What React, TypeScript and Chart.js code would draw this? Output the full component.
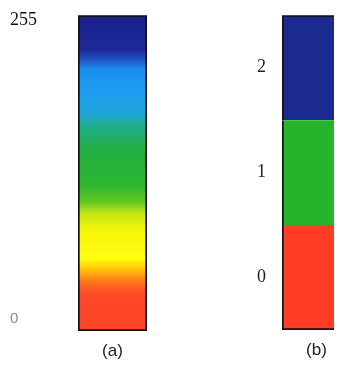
import React, { useEffect, useRef } from "react";
import { Chart, registerables } from "chart.js";

Chart.register(...registerables);

// ---- data ----
const A_LABEL = ["(a)"];
const A_TICKS = [0, 255];
const A_RANGE = [-10, 259]; // extent of the colour bar in intensity units
const GRAD_POS = [0, 0.12, 0.16, 0.2, 0.23, 0.32, 0.37, 0.41, 0.46, 0.57, 0.65, 0.69, 0.75, 0.83, 0.86, 0.89, 1];
const GRAD_COLORS = [
  "#ff4428", "#ff4a28", "#ff7a1a", "#ffcc08", "#ffff10", "#f6f40a", "#c8e614", "#62c822",
  "#2cb630", "#22b040", "#20ae8c", "#20a6dc", "#1e9ef0", "#1a8eee", "#2050c4", "#1c2a98", "#1a2086",
];

const B_LABEL = ["(b)"];
const B_CLASSES = [0, 1, 2];
const B_COLORS = ["#ff3c24", "#26b42a", "#1b2a8e"];

const SERIF = "'Liberation Serif', 'Times New Roman', serif";
const SANS = "'Liberation Sans', Arial, sans-serif";

function useChart(ref: React.RefObject<HTMLCanvasElement>, make: (c: HTMLCanvasElement) => Chart) {
  useEffect(() => {
    if (!ref.current) return;
    const ch = make(ref.current);
    return () => ch.destroy();
  }, []);
}

export default function App() {
  const refA = useRef<HTMLCanvasElement>(null);
  const refB = useRef<HTMLCanvasElement>(null);

  useChart(refA, (canvas) =>
    new Chart(canvas, {
      type: "bar",
      data: {
        labels: A_LABEL,
        datasets: [
          {
            data: [A_RANGE as any],
            backgroundColor: (ctx: any) => {
              const chart = ctx.chart;
              const ys = chart.scales && chart.scales.y;
              if (!chart.chartArea || !ys) return GRAD_COLORS[0];
              const y0 = ys.getPixelForValue(A_RANGE[0]);
              const y1 = ys.getPixelForValue(A_RANGE[1]);
              const g = chart.ctx.createLinearGradient(0, y0, 0, y1);
              GRAD_POS.forEach((p, i) => g.addColorStop(p, GRAD_COLORS[i]));
              return g;
            },
            borderColor: "#111",
            borderWidth: 2,
            borderSkipped: false,
            categoryPercentage: 1,
            barPercentage: 1,
          },
        ],
      },
      options: {
        responsive: false,
        animation: false,
        layout: { padding: { top: 7, right: 24, left: 2, bottom: 0 } },
        plugins: { legend: { display: false }, tooltip: { enabled: false } },
        scales: {
          x: {
            grid: { display: false, drawTicks: false },
            border: { display: false },
            ticks: { padding: 10, color: "#222", font: { family: SANS, size: 17 } },
            afterFit: (s: any) => { s.height = 39; },
          },
          y: {
            min: A_RANGE[0],
            max: A_RANGE[1],
            grid: { display: false, drawTicks: false },
            border: { display: false },
            afterBuildTicks: (s: any) => { s.ticks = A_TICKS.map((v) => ({ value: v })); },
            afterFit: (s: any) => { s.width = 68; },
            ticks: {
              crossAlign: "far",
              padding: 0,
              callback: (v: any) => String(v),
              color: (c: any) => (c.tick && c.tick.value === 0 ? "#8a8a8a" : "#111"),
              font: (c: any) =>
                c.tick && c.tick.value === 0
                  ? { family: SANS, size: 15, lineHeight: 0.8 }
                  : { family: SERIF, size: 18, lineHeight: 0.8 },
            },
          },
        },
      },
    } as any)
  );

  useChart(refB, (canvas) =>
    new Chart(canvas, {
      type: "bar",
      data: {
        labels: B_LABEL,
        datasets: B_CLASSES.map((v, i) => ({
          data: [[v - 0.5, v + 0.5] as any],
          backgroundColor: B_COLORS[i],
          borderColor: "#111",
          borderWidth: {
            left: 2,
            right: 2,
            top: i === B_CLASSES.length - 1 ? 2 : 0,
            bottom: i === 0 ? 2 : 0,
          },
          borderSkipped: false,
          grouped: false,
          categoryPercentage: 1,
          barPercentage: 1,
        })),
      },
      options: {
        responsive: false,
        animation: false,
        layout: { padding: { top: 7, right: 20, left: 86, bottom: 0 } },
        plugins: { legend: { display: false }, tooltip: { enabled: false } },
        scales: {
          x: {
            grid: { display: false, drawTicks: false },
            border: { display: false },
            ticks: { padding: 10, color: "#222", font: { family: SANS, size: 17 } },
            afterFit: (s: any) => { s.height = 40; },
          },
          y: {
            min: B_CLASSES[0] - 0.5,
            max: B_CLASSES[B_CLASSES.length - 1] + 0.5,
            grid: { display: false, drawTicks: false },
            border: { display: false },
            afterBuildTicks: (s: any) => { s.ticks = B_CLASSES.map((v) => ({ value: v })); },
            afterFit: (s: any) => { s.width = 25; },
            ticks: {
              crossAlign: "far",
              padding: 0,
              callback: (v: any) => String(v),
              color: "#222",
              font: { family: SERIF, size: 18, lineHeight: 0.8 },
            },
          },
        },
      },
    } as any)
  );

  return (
    <div style={{ display: "flex", width: 334, height: 362, overflow: "hidden" }}>
      <canvas ref={refA} width={163} height={362} style={{ display: "block", flexShrink: 0 }} />
      <canvas ref={refB} width={200} height={362} style={{ display: "block", flexShrink: 0 }} />
    </div>
  );
}
